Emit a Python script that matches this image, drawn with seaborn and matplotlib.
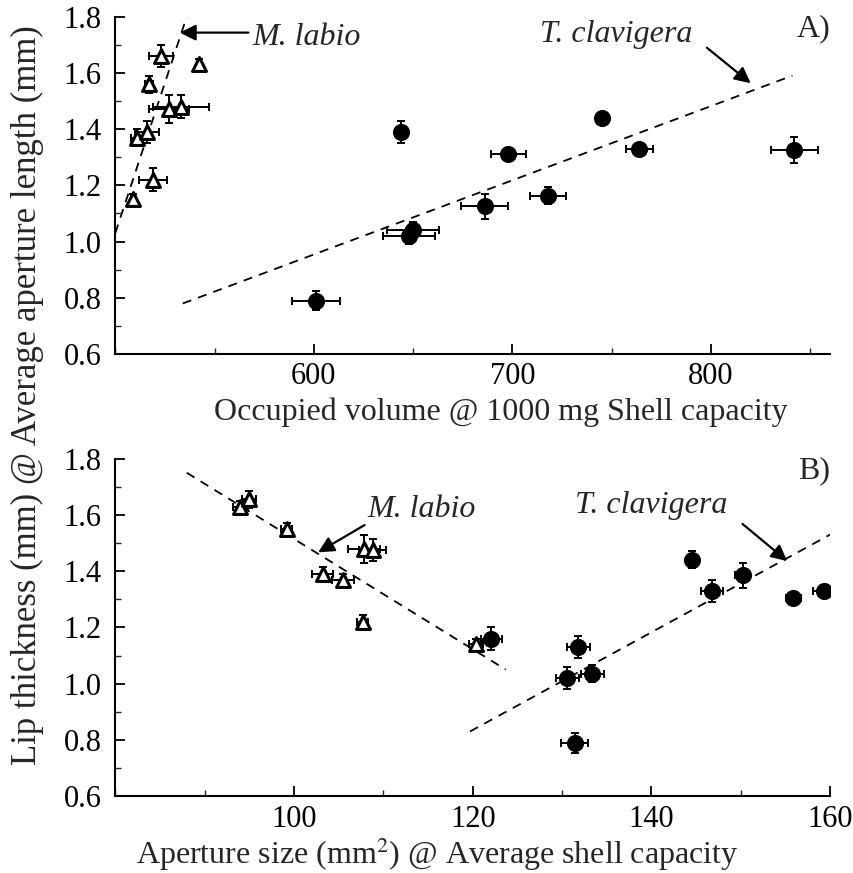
import numpy as np
import pandas as pd
import matplotlib
matplotlib.use("Agg")
import matplotlib.pyplot as plt
import seaborn as sns
from matplotlib.ticker import MultipleLocator, FormatStrFormatter

# Painel A: volume ocupado vs comprimento da abertura
a_lab_x = [509, 519, 511, 516, 517, 523, 527, 533, 542]
a_lab_y = [1.15, 1.22, 1.37, 1.39, 1.56, 1.66, 1.47, 1.48, 1.63]
a_lab_xerr = [1, 7, 3, 6, 2, 6, 10, 14, 1]
a_lab_yerr = [0.02, 0.04, 0.03, 0.04, 0.03, 0.04, 0.05, 0.04, 0.02]

a_cla_x = [601, 644, 648, 650, 686, 698, 718, 745, 764, 842]
a_cla_y = [0.79, 1.39, 1.02, 1.04, 1.125, 1.31, 1.163, 1.44, 1.328, 1.325]
a_cla_xerr = [12, 3, 13, 13, 12, 9, 9, 2, 7, 12]
a_cla_yerr = [0.035, 0.04, 0.03, 0.03, 0.045, 0.02, 0.03, 0.02, 0.02, 0.047]

a_lab_fit_x = [500, 536]
a_lab_fit_y = [1.03, 1.80]
a_cla_fit_x = [534, 841]
a_cla_fit_y = [0.78, 1.59]

a_xticks = [600, 700, 800]

# Painel B: tamanho da abertura vs espessura do labio
b_lab_x = [94, 95, 99.2, 103.2, 105.5, 107.7, 107.8, 108.8, 120.4]
b_lab_y = [1.63, 1.655, 1.55, 1.39, 1.37, 1.22, 1.48, 1.475, 1.14]
b_lab_xerr = [0.8, 0.8, 0.6, 1.2, 1.2, 0.6, 1.8, 1.5, 0.8]
b_lab_yerr = [0.02, 0.03, 0.02, 0.025, 0.02, 0.025, 0.05, 0.04, 0.02]

b_cla_x = [122.1, 131.8, 130.6, 133.4, 131.4, 144.6, 146.8, 150.2, 155.9, 159.3]
b_cla_y = [1.16, 1.13, 1.02, 1.035, 0.79, 1.44, 1.33, 1.385, 1.305, 1.33]
b_cla_xerr = [1.2, 1.3, 1.3, 1.3, 1.5, 0.5, 1.2, 0.8, 0.8, 1.2]
b_cla_yerr = [0.04, 0.04, 0.04, 0.03, 0.035, 0.03, 0.04, 0.045, 0.01, 0.02]

b_lab_fit_x = [88, 123.7]
b_lab_fit_y = [1.75, 1.05]
b_cla_fit_x = [119.7, 160]
b_cla_fit_y = [0.83, 1.53]

b_xticks = [100, 120, 140, 160]
yticks = [0.6, 0.8, 1.0, 1.2, 1.4, 1.6, 1.8]

sns.set_style("ticks")
plt.rcParams['font.family'] = ['Liberation Serif', 'DejaVu Serif']
plt.rcParams['mathtext.fontset'] = 'stix'
FS = 23
TS = 22

fig, (ax1, ax2) = plt.subplots(2, 1, figsize=(8.54, 8.73), dpi=100)
fig.subplots_adjust(left=0.135, right=0.972, top=0.981, bottom=0.088, hspace=0.31)


def draw_panel(ax, lx, ly, lxe, lye, cx, cy, cxe, cye, lfx, lfy, cfx, cfy):
    ax.errorbar(lx, ly, xerr=lxe, yerr=lye, fmt='none', ecolor='k',
                elinewidth=1.4, capsize=3, capthick=1.4, zorder=2)
    ax.errorbar(cx, cy, xerr=cxe, yerr=cye, fmt='none', ecolor='k',
                elinewidth=1.4, capsize=3, capthick=1.4, zorder=2)
    sns.scatterplot(x=lx, y=ly, ax=ax, marker='^', s=100, facecolor='white',
                    edgecolor='k', linewidth=2.2, zorder=3)
    sns.scatterplot(x=cx, y=cy, ax=ax, marker='o', s=130, color='k',
                    edgecolor='k', zorder=3)
    sns.lineplot(x=lfx, y=lfy, ax=ax, color='k', lw=1.3, linestyle=(0, (5, 4)))
    sns.lineplot(x=cfx, y=cfy, ax=ax, color='k', lw=1.3, linestyle=(0, (5, 4)))


draw_panel(ax1, a_lab_x, a_lab_y, a_lab_xerr, a_lab_yerr,
           a_cla_x, a_cla_y, a_cla_xerr, a_cla_yerr,
           a_lab_fit_x, a_lab_fit_y, a_cla_fit_x, a_cla_fit_y)
draw_panel(ax2, b_lab_x, b_lab_y, b_lab_xerr, b_lab_yerr,
           b_cla_x, b_cla_y, b_cla_xerr, b_cla_yerr,
           b_lab_fit_x, b_lab_fit_y, b_cla_fit_x, b_cla_fit_y)

ax1.set_xlim(500, 860)
ax1.set_xticks(a_xticks)
ax1.xaxis.set_minor_locator(MultipleLocator(50))
ax2.set_xlim(80, 160)
ax2.set_xticks(b_xticks)
ax2.xaxis.set_minor_locator(MultipleLocator(10))

for ax in (ax1, ax2):
    ax.set_ylim(0.6, 1.8)
    ax.set_yticks(yticks)
    ax.yaxis.set_minor_locator(MultipleLocator(0.1))
    ax.yaxis.set_major_formatter(FormatStrFormatter('%.1f'))
    sns.despine(ax=ax)
    for s in ('left', 'bottom'):
        ax.spines[s].set_linewidth(1.5)
        ax.spines[s].set_color('k')
    ax.tick_params(which='major', direction='in', length=7, width=1.3,
                   labelsize=TS, colors='k')
    ax.tick_params(axis='y', which='major', pad=10)
    ax.tick_params(axis='x', which='major', pad=6)
    ax.tick_params(which='minor', direction='in', length=4, width=1.0)
    ax.set_ylabel('')

ax1.set_xlabel('Occupied volume @ 1000 mg Shell capacity', fontsize=FS)
ax1.xaxis.set_label_coords(0.54, -0.128)
ax2.set_xlabel(r'Aperture size (mm$^2$) @ Average shell capacity', fontsize=FS)
ax2.xaxis.set_label_coords(0.45, -0.115)
fig.text(0.032, 0.547, 'Lip thickness (mm) @ Average aperture length (mm)',
         rotation=90, va='center', ha='center', fontsize=25)

arrow = dict(arrowstyle='-|>', color='k', lw=1.6, mutation_scale=24,
             shrinkA=0, shrinkB=0)

# Anotacoes painel A
ax1.text(569, 1.725, 'M. labio', fontsize=FS, style='italic', va='center')
ax1.annotate('', xy=(532.5, 1.743), xytext=(567, 1.743), arrowprops=arrow)
ax1.text(714, 1.735, 'T. clavigera', fontsize=FS, style='italic', va='center')
ax1.annotate('', xy=(820, 1.563), xytext=(798, 1.689), arrowprops=arrow)
ax1.text(1.0, 0.965, 'A)', transform=ax1.transAxes, fontsize=FS,
         ha='right', va='center')

# Anotacoes painel B
ax2.text(108.2, 1.62, 'M. labio', fontsize=FS, style='italic', va='center')
ax2.annotate('', xy=(102.7, 1.467), xytext=(107.9, 1.564), arrowprops=arrow)
ax2.text(131.4, 1.634, 'T. clavigera', fontsize=FS, style='italic', va='center')
ax2.annotate('', xy=(155.2, 1.436), xytext=(150.2, 1.568), arrowprops=arrow)
ax2.text(1.0, 0.965, 'B)', transform=ax2.transAxes, fontsize=FS,
         ha='right', va='center')

fig.savefig('out.png', dpi=100)
